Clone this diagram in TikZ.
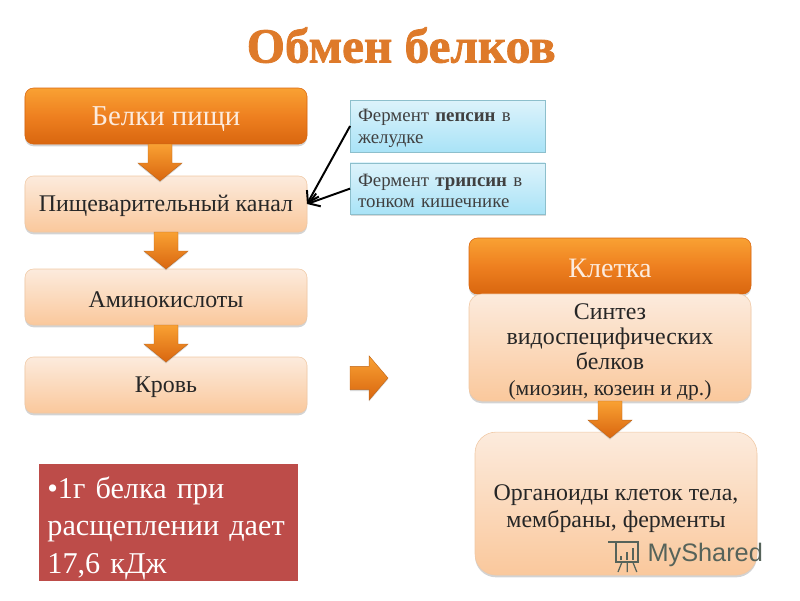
\documentclass[tikz,border=0pt]{standalone}
\usepackage{fontspec}
\setmainfont{Liberation Serif}
\setsansfont{Liberation Sans}
\newfontfamily\titlefont[FakeBold=1.6]{Liberation Serif Bold}
\usetikzlibrary{positioning,arrows.meta,shadows,calc}
\definecolor{orangeTop}{HTML}{F9A133}
\definecolor{orangeMid}{HTML}{EE8020}
\definecolor{orangeBot}{HTML}{D9660F}
\definecolor{peachTop}{HTML}{FCEBDD}
\definecolor{peachBot}{HTML}{FAC89C}
\definecolor{peachLine}{HTML}{F0C8A4}
\definecolor{skyTop}{HTML}{DDF3FB}
\definecolor{skyBot}{HTML}{A9E3F7}
\definecolor{skyLine}{HTML}{8DBFCC}
\definecolor{redBox}{HTML}{BD4C49}
\definecolor{titleOrange}{HTML}{DE7A2A}
\definecolor{markGrey}{HTML}{56635A}

\begin{document}
\begin{tikzpicture}[
  base/.style={rounded corners=6pt, align=center, minimum width=7.05cm, minimum height=1.4cm, inner sep=0pt, outer sep=0pt,
    execute at begin node={\rule{0pt}{0.85em}},
    drop shadow={shadow xshift=0pt, shadow yshift=-1.6pt, opacity=0.35}},
  hot/.style={base, draw=orangeBot, top color=orangeTop, bottom color=orangeBot, middle color=orangeMid, text=peachTop, font=\fontsize{20.5}{24}\selectfont},
  soft/.style={base, draw=peachLine, top color=peachTop, bottom color=peachBot, text=black!85, font=\fontsize{17}{18}\selectfont},
  enzyme/.style={draw=skyLine, top color=skyTop, bottom color=skyBot, minimum width=4.875cm, minimum height=1.29cm, inner xsep=0.2cm, inner ysep=0pt, outer sep=0pt,
    text width=4.475cm, align=left, text=black!75, font=\fontsize{13.4}{15.6}\selectfont,
    execute at begin node={\rule{0pt}{0.9em}},
    drop shadow={shadow xshift=0.8pt, shadow yshift=-1.2pt, opacity=0.3}},
  fatbase/.style={draw=orangeMid!80!black, line width=0.3pt, top color=orangeTop, bottom color=orangeBot,
    drop shadow={shadow xshift=0pt, shadow yshift=-1pt, opacity=0.3}},
  fatdown/.style={fatbase, to path={($(\tikztostart)+(-0.3,0)$) -- ($(\tikztotarget)+(-0.3,0.45)$) -- ($(\tikztotarget)+(-0.55,0.45)$) -- (\tikztotarget)
    -- ($(\tikztotarget)+(0.55,0.45)$) -- ($(\tikztotarget)+(0.3,0.45)$) -- ($(\tikztostart)+(0.3,0)$) -- cycle}},
  fatright/.style={fatbase, to path={($(\tikztostart)+(0,0.29)$) -- ($(\tikztotarget)+(-0.47,0.29)$) -- ($(\tikztotarget)+(-0.47,0.55)$) -- (\tikztotarget)
    -- ($(\tikztotarget)+(-0.47,-0.55)$) -- ($(\tikztotarget)+(-0.47,-0.29)$) -- ($(\tikztostart)+(0,-0.29)$) -- cycle}},
  arr/.style={-{Straight Barb[length=2.6mm,width=3.4mm]}, line width=1.4pt}
]
\useasboundingbox (0,0) rectangle (20,-15);

\node[text=titleOrange, font=\fontsize{35}{40}\titlefont] (title) at (10.03,-1.13) {Обмен белков};

\node[hot] (food) at (4.15,-2.9) {Белки пищи};
\node[soft, below=0.8cm of food] (canal) {Пищеварительный канал};
\node[soft, below=0.925cm of canal] (acid) {Аминокислоты};
\node[soft, below=0.8cm of acid] (blood) {Кровь};

\node[enzyme] (pepsin) at (11.19,-3.15) {Фермент \textbf{пепсин} в\\желудке};
\node[enzyme, below=0.275cm of pepsin] (trypsin) {Фермент \textbf{трипсин} в\\тонком кишечнике};
\draw[arr] (pepsin.west) -- (canal.east);
\draw[arr] (trypsin.west) -- (canal.east);

\node[hot, font=\fontsize{20}{24}\selectfont] (cell) at (15.25,-6.65) {Клетка};
\node[soft, below=0pt of cell, minimum height=2.675cm, rounded corners=9pt] (synth) {\rule{0pt}{1em}Синтез\\видоспецифических\\белков\\{\fontsize{15.3}{18}\selectfont(миозин, козеин и др.)}};
\node[soft, rounded corners=15pt, minimum height=3.575cm, font=\fontsize{17}{19}\selectfont] (organ) at (15.4,-12.59) {\rule{0pt}{1.07em}Органоиды клеток тела,\\мембраны, ферменты};

\draw[fatdown] ($(food.south)+(-0.15,0)$) to ($(canal.north)+(-0.15,-0.125)$);
\draw[fatdown] (canal.south) to (acid.north);
\draw[fatdown] (acid.south) to ($(blood.north)+(0,-0.125)$);
\draw[fatdown] (synth.south) to ($(synth.south |- organ.north)+(0,-0.15)$);
\coordinate (gapL) at (8.75,-9.45);
\coordinate (gapR) at (9.7,-9.45);
\draw[fatright] (gapL) to (gapR);

\node[draw=white, line width=1pt, fill=redBox, minimum width=6.525cm, minimum height=2.975cm, inner xsep=6.5pt, inner ysep=0pt, outer sep=0pt,
  text=white, text width=6.05cm, align=left, font=\fontsize{21.5}{26.7}\selectfont,
  drop shadow={shadow xshift=0pt, shadow yshift=-1pt, opacity=0.3}] (note) at (4.21,-13.06) {\rule{0pt}{1.1em}•1г белка при\\расщеплении дает\\17,6 кДж};

\node[text=markGrey, font=\fontsize{18}{20}\sffamily, inner sep=0pt] (mark) at (17.63,-13.87) {MyShared};
\draw[markGrey, line width=1pt] (15.4,-13.55) rectangle (15.95,-14.05);
\draw[markGrey, line width=1.3pt] (15.2,-13.55) -- (15.98,-13.55);
\draw[markGrey, line width=1.6pt] (15.52,-14) -- (15.52,-13.9) (15.67,-14) -- (15.67,-13.8) (15.82,-14) -- (15.82,-13.7);
\draw[markGrey, line width=0.9pt] (15.55,-14.05) -- (15.45,-14.3) (15.68,-14.05) -- (15.68,-14.3) (15.82,-14.05) -- (15.92,-14.3);
\end{tikzpicture}
\end{document}
